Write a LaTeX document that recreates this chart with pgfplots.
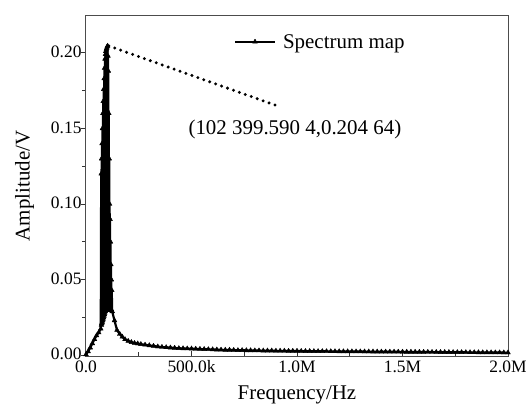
\documentclass[border=0pt]{standalone}
\usepackage{pgfplots}
\pgfplotsset{compat=1.18}
\usepackage{pgfplotstable}
\usepackage{fontspec}
\setmainfont{Liberation Serif}
\newcommand{\tlfont}{\fontsize{17.5}{20}\selectfont}

\pgfplotstableread{
x y
0 0.0005
10000 0.0025
20000 0.0050
30000 0.0078
40000 0.0105
50000 0.0130
60000 0.0150
70000 0.0175
72000 0.1200
73000 0.0200
74000 0.1300
75000 0.0210
76000 0.1400
77000 0.0220
78000 0.1500
79000 0.0230
80000 0.1600
81000 0.0240
82000 0.1680
83000 0.0250
84000 0.1760
85000 0.0260
86000 0.1830
87000 0.0270
88000 0.1900
89000 0.0280
90000 0.1960
91000 0.0290
92000 0.1990
93000 0.0300
94000 0.2010
95000 0.0300
96000 0.2020
97000 0.0300
98000 0.2030
99000 0.0300
100000 0.2040
101000 0.0300
102400 0.2046
103000 0.0300
104000 0.1980
105000 0.0300
106000 0.1880
107000 0.0300
108000 0.1600
109000 0.0300
110000 0.1300
111000 0.0300
112000 0.1000
113000 0.0300
114000 0.0900
115000 0.0300
116000 0.0750
117000 0.0300
118000 0.0600
119000 0.0300
120000 0.0500
121000 0.0300
122000 0.0430
124000 0.0290
135000 0.0230
147000 0.0166
160000 0.0140
172000 0.0122
185000 0.0105
200000 0.0094
215000 0.0086
230000 0.0080
245000 0.0077
260000 0.0073
280000 0.0069
300000 0.0065
320000 0.0061
340000 0.0057
360000 0.0054
380000 0.0052
400000 0.0050
420000 0.0048
440000 0.0046
460000 0.0045
480000 0.0044
500000 0.0043
520000 0.0042
540000 0.0041
560000 0.0040
580000 0.0039
600000 0.0038
620000 0.0037
640000 0.0036
660000 0.0035
680000 0.0035
700000 0.0034
720000 0.0033
740000 0.0033
760000 0.0032
780000 0.0032
800000 0.0031
820000 0.0031
840000 0.0030
860000 0.0030
880000 0.0030
900000 0.0029
920000 0.0029
940000 0.0029
960000 0.0028
980000 0.0028
1000000 0.0028
1020000 0.00271
1040000 0.00268
1060000 0.00267
1080000 0.00264
1100000 0.00262
1120000 0.00261
1140000 0.00258
1160000 0.00256
1180000 0.00255
1200000 0.00252
1220000 0.00250
1240000 0.00249
1260000 0.00246
1280000 0.00244
1300000 0.00243
1320000 0.00240
1340000 0.00238
1360000 0.00237
1380000 0.00234
1400000 0.00232
1420000 0.00231
1440000 0.00228
1460000 0.00226
1480000 0.00225
1500000 0.00222
1520000 0.00220
1540000 0.00219
1560000 0.00216
1580000 0.00214
1600000 0.00213
1620000 0.00210
1640000 0.00208
1660000 0.00207
1680000 0.00204
1700000 0.00202
1720000 0.00201
1740000 0.00198
1760000 0.00196
1780000 0.00195
1800000 0.00192
1820000 0.00190
1840000 0.00189
1860000 0.00186
1880000 0.00184
1900000 0.00183
1920000 0.00180
1940000 0.00178
1960000 0.00177
1980000 0.00174
2000000 0.00172
}\spectrum

\begin{document}
\begin{tikzpicture}
\path[use as bounding box] (-86bp,-52bp) rectangle (442bp,356bp);
\begin{axis}[
  scale only axis,
  width=422bp, height=340bp,
  at={(0,0)}, anchor=south west,
  xmin=0, xmax=2000000,
  ymin=-0.0005, ymax=0.2244,
  axis line style={line width=1bp, black!70},
  xtick={0,500000,1000000,1500000,2000000},
  xticklabels={{\tlfont 0.0},{\tlfont 500.0k},{\tlfont 1.0M},{\tlfont 1.5M},{\tlfont 2.0M}},
  scaled x ticks=false,
  ytick={0,0.05,0.10,0.15,0.20},
  yticklabels={{\tlfont 0.00},{\tlfont 0.05},{\tlfont 0.10},{\tlfont 0.15},{\tlfont 0.20}},
  scaled y ticks=false,
  minor x tick num=1,
  minor y tick num=1,
  xtick pos=bottom, ytick pos=left,
  tick align=inside,
  major tick length=5bp, minor tick length=3.5bp,
  major y tick style={xshift=-5bp},
  minor y tick style={xshift=-3.5bp},
  tick style={line width=0.8bp, black!80},
  xticklabel style={yshift=-1bp},
  yticklabel style={xshift=-1bp, yshift=1bp},
  label style={font=\fontsize{21}{24}\selectfont},
  xlabel={Frequency/Hz},
  ylabel={Amplitude/V},
  xlabel style={yshift=-6bp},
  ylabel style={yshift=10bp},
  clip mode=individual,
  legend style={at={(rel axis cs:0.35,0.924)}, anchor=west, draw=none, fill=none,
    font=\fontsize{21}{24}\selectfont, inner sep=0pt,
    /tikz/every odd column/.append style={column sep=5bp}},
  legend cell align=left,
  legend image code/.code={
    \draw[mark repeat=2,mark phase=2] plot coordinates {(0bp,0bp)(20bp,0bp)(40bp,0bp)};
  },
]
\addplot[black, line width=2.2bp, line join=round, mark=triangle*, mark size=2.8bp,
  mark options={solid, line width=0.4bp}] table[x=x,y=y] {\spectrum};
\addlegendentry{Spectrum map}
\addplot[black, line width=3.3bp, line cap=round, dash pattern=on 0bp off 6.3bp, forget plot]
  coordinates {(108000,0.2046) (910000,0.1648)};
\node[font=\fontsize{21}{24}\selectfont] at (axis cs:990000,0.1495) {(102 399.590 4,0.204 64)};
\end{axis}
\end{tikzpicture}
\end{document}
